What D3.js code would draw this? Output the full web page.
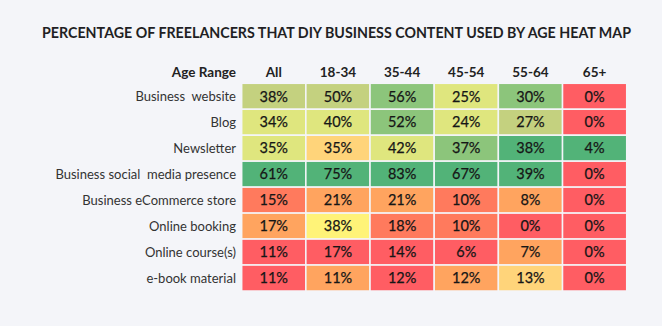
<!DOCTYPE html>
<html><head><meta charset="utf-8">
<script src="https://cdn.jsdelivr.net/npm/d3@7"></script>
<style>
html,body{margin:0;padding:0;background:#f4f5f9;}
svg{display:block;}
text{font-family:"Lato","Noto Sans",sans-serif;white-space:pre;}
</style></head>
<body><svg id="c" width="662" height="326"></svg>
<script>
const title = "PERCENTAGE OF FREELANCERS THAT DIY BUSINESS CONTENT USED BY AGE HEAT MAP";
const headerLabel = "Age Range";
const ageGroups = ["All","18-34","35-44","45-54","55-64","65+"];
const contentTypes = ["Business  website","Blog","Newsletter","Business social  media presence","Business eCommerce store","Online booking","Online course(s)","e-book material"];
const values = [
  [38,50,56,25,30,0],
  [34,40,52,24,27,0],
  [35,35,42,37,38,4],
  [61,75,83,67,39,0],
  [15,21,21,10,8,0],
  [17,38,18,10,0,0],
  [11,17,14,6,7,0],
  [11,11,12,12,13,0]
];
// colour class shown in the picture for each cell (0 = best/green ... 8 = worst/red)
const colorLevels = [
  [2,2,1,3,1,8],
  [3,3,1,3,2,8],
  [3,5,3,1,0,0],
  [0,0,0,0,0,8],
  [7,6,6,7,6,8],
  [6,4,7,7,8,8],
  [8,8,8,8,6,8],
  [8,6,8,6,5,8]
];
const palette = ["#52b378","#8cc57b","#c4d17f","#dfe67e","#fff378","#ffd47a","#ffa45f","#ff7a5d","#ff5d63"];

const svg = d3.select("#c");
const x = d3.scaleBand().domain(ageGroups).range([241.7,626.7]);
const y = d3.scaleBand().domain(contentTypes).range([83.3,291]);
const color = d3.scaleOrdinal().domain(d3.range(palette.length)).range(palette);

svg.append("text").attr("x",42).attr("y",38).attr("font-size",15).attr("font-weight",700)
  .attr("fill","#1f1f24").attr("textLength",589).attr("lengthAdjust","spacingAndGlyphs").text(title);

const cells = [];
contentTypes.forEach((r,i)=>ageGroups.forEach((c,j)=>cells.push({r,c,v:values[i][j],l:colorLevels[i][j]})));

svg.append("g").selectAll("rect").data(cells).join("rect")
  .attr("x",d=>x(d.c)).attr("y",d=>y(d.r)).attr("width",x.bandwidth()).attr("height",y.bandwidth())
  .attr("fill",d=>color(d.l)).attr("stroke","#f4f5f9").attr("stroke-width",1.5);

svg.append("g").selectAll("text").data(cells).join("text")
  .attr("x",d=>x(d.c)+x.bandwidth()/2).attr("y",d=>y(d.r)+y.bandwidth()/2).attr("dy","0.36em")
  .attr("text-anchor","middle").attr("font-size",14.5).attr("font-weight",400).attr("fill","#161616")
  .attr("stroke","#161616").attr("stroke-width",0.25)
  .text(d=>d.v+"%");

svg.append("g").selectAll("text").data(ageGroups).join("text")
  .attr("x",d=>x(d)+x.bandwidth()/2).attr("y",72).attr("dy","0.36em").attr("text-anchor","middle")
  .attr("font-size",13.5).attr("font-weight",700).attr("fill","#222").text(d=>d);

svg.append("text").attr("x",236).attr("y",72).attr("dy","0.36em").attr("text-anchor","end")
  .attr("font-size",13.5).attr("font-weight",700).attr("fill","#222").text(headerLabel);

svg.append("g").selectAll("text").data(contentTypes).join("text")
  .attr("x",236).attr("y",d=>y(d)+y.bandwidth()/2).attr("dy","0.36em").attr("text-anchor","end")
  .attr("font-size",13).attr("fill","#333").text(d=>d);
</script></body></html>
